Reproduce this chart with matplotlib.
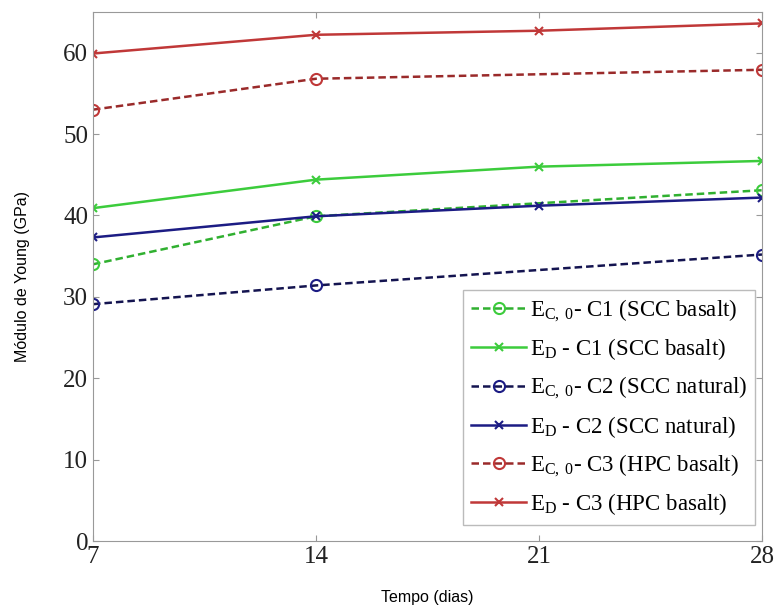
import matplotlib
matplotlib.use('Agg')
import matplotlib.pyplot as plt

# data
dias = [7, 14, 21, 28]
dias_ec = [7, 14, 28]   # dashed series have no point at day 21

ec_c1 = [34.0, 39.9, 43.1]
ed_c1 = [40.9, 44.4, 46.0, 46.7]
ec_c2 = [29.1, 31.4, 35.2]
ed_c2 = [37.3, 39.9, 41.2, 42.2]
ec_c3 = [53.0, 56.8, 57.9]
ed_c3 = [59.9, 62.2, 62.7, 63.6]

labels = [r'$\mathregular{E_{C,\,0}}$- C1 (SCC basalt)',
          r'$\mathregular{E_D}$ - C1 (SCC basalt)',
          r'$\mathregular{E_{C,\,0}}$- C2 (SCC natural)',
          r'$\mathregular{E_D}$ - C2 (SCC natural)',
          r'$\mathregular{E_{C,\,0}}$- C3 (HPC basalt)',
          r'$\mathregular{E_D}$ - C3 (HPC basalt)']

plt.rcParams['mathtext.fontset'] = 'custom'
plt.rcParams['mathtext.rm'] = 'Liberation Serif'

fig = plt.figure(figsize=(7.79, 6.10), dpi=100)
ax = fig.add_axes([93/779, 1 - 541/610, (762-93)/779, (541-12)/610])

green = '#3ccc3c'
green_d = '#30b030'
blue = '#1c1c84'
blue_d = '#141450'
red = '#c03838'
red_d = '#9a2a2a'

dash = (3, 1.6)
ax.plot(dias_ec, ec_c1, '--', dashes=dash, color=green_d, marker='o', mec=green, mfc='none', ms=8, mew=1.5, lw=1.8, label=labels[0])
ax.plot(dias, ed_c1, '-', color=green, marker='x', ms=6, mew=1.5, lw=1.8, label=labels[1])
ax.plot(dias_ec, ec_c2, '--', dashes=dash, color=blue_d, marker='o', mec=blue, mfc='none', ms=8, mew=1.5, lw=1.8, label=labels[2])
ax.plot(dias, ed_c2, '-', color=blue, marker='x', ms=6, mew=1.5, lw=1.8, label=labels[3])
ax.plot(dias_ec, ec_c3, '--', dashes=dash, color=red_d, marker='o', mec=red, mfc='none', ms=8, mew=1.5, lw=1.8, label=labels[4])
ax.plot(dias, ed_c3, '-', color=red, marker='x', ms=6, mew=1.5, lw=1.8, label=labels[5])

ax.set_xlim(7, 28)
ax.set_ylim(0, 65)
ax.set_xticks(dias)
ax.set_yticks([0, 10, 20, 30, 40, 50, 60])

for s in ax.spines.values():
    s.set_color('#999999')
ax.tick_params(direction='in', top=True, right=True, length=4, color='#999999',
               labelsize=18, labelcolor='#222222')
for t in ax.get_xticklabels() + ax.get_yticklabels():
    t.set_fontfamily('Liberation Serif')

ax.set_xlabel('Tempo (dias)', fontsize=11.5, fontfamily='Liberation Sans', labelpad=16)
ax.set_ylabel('Módulo de Young (GPa)', fontsize=11.5, fontfamily='Liberation Sans', labelpad=24)

leg = ax.legend(loc='lower right', bbox_to_anchor=(0.99, 0.03), prop={'family': 'Liberation Serif', 'size': 16.5},
                handlelength=2.4, handletextpad=0.15, labelspacing=0.55, fancybox=False,
                edgecolor='#aaaaaa', borderpad=0.35, borderaxespad=0)
leg.get_frame().set_linewidth(1.0)

fig.savefig('out.png', dpi=100)
